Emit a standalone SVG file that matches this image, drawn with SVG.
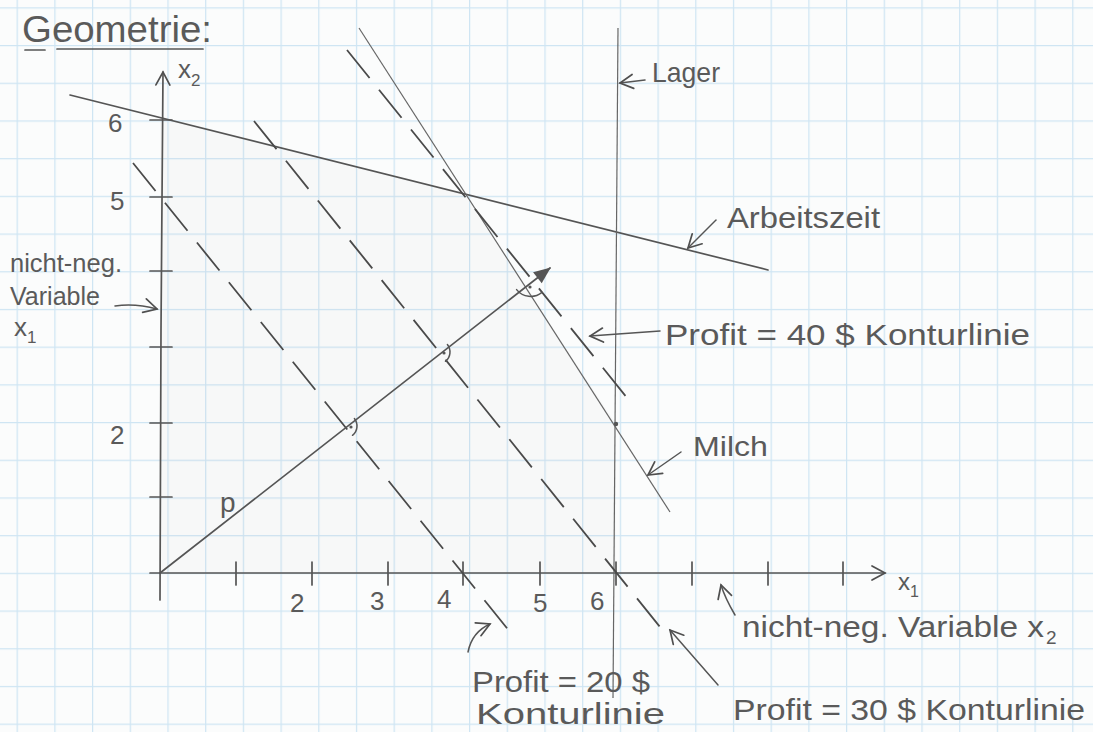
<svg xmlns="http://www.w3.org/2000/svg" width="1093" height="732" viewBox="0 0 1093 732">
<defs>
<pattern id="grid" patternUnits="userSpaceOnUse" x="16.6" y="7.3" width="37.7" height="37.7">
<path d="M0.6 0V37.7M0 0.6H37.7" stroke="#cfe5f3" stroke-width="1.3" fill="none"/>
</pattern>
<marker id="open" markerUnits="userSpaceOnUse" markerWidth="18" markerHeight="18" viewBox="0 0 18 18" refX="16" refY="9" orient="auto">
<path d="M3,2 L16,9 L3,16" fill="none" stroke="#4f4f4f" stroke-width="1.7" stroke-linecap="round"/>
</marker>
<marker id="filled" markerUnits="userSpaceOnUse" markerWidth="20" markerHeight="20" viewBox="0 0 20 20" refX="17" refY="10" orient="auto">
<path d="M1,3 L18,10 L1,17 Z" fill="#555"/>
</marker>
<style>
.pen{stroke:#555;stroke-width:1.7;fill:none;stroke-linecap:round}
.thin{stroke:#666;stroke-width:1.2;fill:none}
.dash{stroke:#4a4a4a;stroke-width:1.8;fill:none;stroke-dasharray:36 15}
.ann{stroke:#555;stroke-width:1.5;fill:none;stroke-linecap:round}
.t{font-family:"Liberation Sans",Arial,sans-serif;fill:#5a5a5a}
</style>
</defs>
<rect width="1093" height="732" fill="#fbfcfc"/>
<rect width="1093" height="732" fill="url(#grid)"/>

<g id="feasible-region">
<polygon points="160,573 160,118 464,194 616,424 616,573" fill="#999" fill-opacity="0.035"/>
</g>

<g id="title">
<text class="t" x="22" y="42" font-size="36" textLength="190" lengthAdjust="spacingAndGlyphs">Geometrie:</text>
<path class="pen" d="M25,50 L45,50 M57,49 L203,49"/>
</g>

<g id="axes">
<path class="pen" d="M160,600 L161,330 L163,72" marker-end="url(#open)"/>
<path class="pen" d="M150,573 L885,573" marker-end="url(#open)"/>
<path class="pen" d="M150,120H172 M150,197H172 M150,271H172 M150,347H172 M150,423H172 M150,497H172"/>
<path class="pen" d="M236,562V585 M312,562V585 M388,562V585 M463,562V585 M540,562V585 M616,562V585 M692,562V585 M768,562V585 M843,562V585"/>
<text class="t" x="178" y="78" font-size="26">x<tspan dy="8" font-size="17">2</tspan></text>
<text class="t" x="898" y="590" font-size="24">x<tspan dy="7" font-size="16">1</tspan></text>
<text class="t" x="108" y="132" font-size="26">6</text>
<text class="t" x="110" y="210" font-size="26">5</text>
<text class="t" x="110" y="444" font-size="26">2</text>
<text class="t" x="290" y="612" font-size="26">2</text>
<text class="t" x="370" y="610" font-size="26">3</text>
<text class="t" x="437" y="608" font-size="26">4</text>
<text class="t" x="533" y="612" font-size="26">5</text>
<text class="t" x="590" y="610" font-size="26">6</text>
</g>

<g id="connectors">
<path id="arbeitszeit-line" class="pen" d="M70,95 L768,270"/>
<path id="milch-line" class="thin" d="M359,28 L670,512"/>
<path id="lager-line" class="thin" d="M618,28 L613,698"/>
<circle cx="616" cy="424" r="2.2" fill="#555"/>
<path id="profit20" class="dash" d="M133,163 L510,632"/>
<path id="profit30" class="dash" d="M254,121 L668,637"/>
<path id="profit40" class="dash" d="M347,50 L632,404"/>
<path id="vector-p" class="pen" d="M160,573 L550,268" marker-end="url(#filled)"/>
<path class="ann" d="M354.4,418.5 A12,12 0 0 1 352.5,435.3"/>
<circle cx="351" cy="427" r="1.6" fill="#555"/>
<path class="ann" d="M447.4,344.5 A12,12 0 0 1 445.5,361.3"/>
<circle cx="444" cy="353" r="1.6" fill="#555"/>
<path class="ann" d="M516.6,289.6 A18,18 0 0 0 542,292.4"/>
<circle cx="530" cy="287" r="1.6" fill="#555"/>
<path class="ann" d="M645,80 L620,83" marker-end="url(#open)"/>
<path class="ann" d="M716,220 L688,248" marker-end="url(#open)"/>
<path class="ann" d="M115,306 Q135,303 157,309" marker-end="url(#open)"/>
<path class="ann" d="M660,331 L590,336" marker-end="url(#open)"/>
<path class="ann" d="M681,452 L648,475" marker-end="url(#open)"/>
<path class="ann" d="M735,615 Q725,598 721,585" marker-end="url(#open)"/>
<path class="ann" d="M468,652 Q472,632 490,624" marker-end="url(#open)"/>
<path class="ann" d="M718,685 L670,630" marker-end="url(#open)"/>
</g>

<g id="label-p"><text class="t" x="220" y="512" font-size="28">p</text></g>
<g id="label-lager"><text class="t" x="652" y="82" font-size="28" textLength="68" lengthAdjust="spacingAndGlyphs">Lager</text></g>
<g id="label-arbeitszeit"><text class="t" x="727" y="228" font-size="30" textLength="153" lengthAdjust="spacingAndGlyphs">Arbeitszeit</text></g>
<g id="label-x1-nonneg">
<text class="t" x="10" y="272" font-size="26" textLength="112" lengthAdjust="spacingAndGlyphs">nicht-neg.</text>
<text class="t" x="10" y="305" font-size="26" textLength="90" lengthAdjust="spacingAndGlyphs">Variable</text>
<text class="t" x="14" y="336" font-size="26">x<tspan dy="7" font-size="17">1</tspan></text>
</g>
<g id="label-profit40"><text class="t" x="665" y="345" font-size="30" textLength="365" lengthAdjust="spacingAndGlyphs">Profit = 40 $ Konturlinie</text></g>
<g id="label-milch"><text class="t" x="693" y="456" font-size="28" textLength="75" lengthAdjust="spacingAndGlyphs">Milch</text></g>
<g id="label-x2-nonneg">
<text class="t" x="742" y="637" font-size="30" textLength="302" lengthAdjust="spacingAndGlyphs">nicht-neg. Variable x</text>
<text class="t" x="1046" y="644" font-size="19">2</text>
</g>
<g id="label-profit20">
<text class="t" x="472" y="692" font-size="30" textLength="178" lengthAdjust="spacingAndGlyphs">Profit = 20 $</text>
<text class="t" x="476" y="724" font-size="30" textLength="189" lengthAdjust="spacingAndGlyphs">Konturlinie</text>
</g>
<g id="label-profit30"><text class="t" x="733" y="720" font-size="30" textLength="352" lengthAdjust="spacingAndGlyphs">Profit = 30 $ Konturlinie</text></g>
</svg>
